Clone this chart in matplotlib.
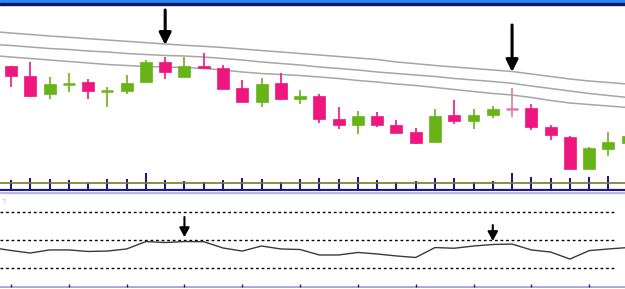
import matplotlib
matplotlib.use("Agg")
import matplotlib.pyplot as plt
from matplotlib.patches import Rectangle
import numpy as np

# ---- данные ----
opens  = [134,124,106,116,118,109,109,118,138,123,134,132,112, 98,117,101,104, 81, 75, 84, 75, 68, 58, 85, 79, 85, 91, 92, 73, 63, 31, 51, 57]
highs  = [134,138,123,127,121,113,125,140,143,143,147,135,120,122,127,110,106, 93, 89, 88, 80, 72, 91,100, 91, 94,112, 96, 75, 64, 53, 68, 64]
lows   = [113,103,101,108,101, 93,106,118,121,123,132,111, 98, 93,100, 96, 77, 71, 66, 73, 67, 56, 58, 76, 71, 82, 83, 70, 60, 31, 31, 44, 57]
closes = [124,104,116,117,109,110,117,138,128,134,132,111, 98,116,101,104, 81, 75, 84, 75, 67, 57, 84, 79, 85, 91,90.5,73, 65, 31, 52, 58, 64]
volume = [11,13,12,11.5,8,12,12,18,11,10,9,11,13,12,9,12,13,12,14,11,9,10,13,13,9,10,18,14,13,13,14,15]
vol_level = 8

# три скользящие (индексы -1..32)
ma_x = np.arange(-1, 33)
ma_fast = [168.5,167,165.5,164,162.7,161.3,160,158.7,157.3,156,154.7,153.7,152.5,151,149.5,148,146.5,145,143.5,142,140.5,138,136.3,134.5,133,131.5,130,128.5,126,123.5,121,119,117.5,116]
ma_mid  = [155.5,154.5,153,151.5,150.5,149,148,146.5,145.5,144.5,144,143,141.5,140,138,136.5,135,133,131.5,130,128,126.5,125,123.5,121.5,120,118.5,116.7,114,111.5,109,106.5,104.5,102.5]
ma_slow = [144.5,143,141.5,140,138.5,137,135.5,134.5,133.5,133,132.5,131.5,130,128,126.5,125.5,124.5,123,121.5,119.5,118,116,114.5,112.5,110.5,108.5,106.5,105,102.5,99.5,97,95.5,94,92.5]

# осциллятор (индексы -1..32) и его уровни
osc = [44.6,42.5,40.7,42.9,42.9,41.8,42.1,43.6,48.9,48.2,48.9,48.8,44.3,42.1,45.7,43.6,43.2,39.3,39.3,41.1,40.0,38.6,37.5,44.6,44.1,45.7,46.8,47.1,42.9,41.4,36.4,42.4,43.6,44.6]
osc_levels = [70, 50, 30]

# стрелки-сигналы: (бар, от, до)
main_arrows = [(8, 190, 155), (26, 175, 128)]
osc_arrows  = [(9, 66.4, 52.1), (25, 60.7, 49.3)]

PINK = "#f0167f"; GREEN = "#68b418"; NAVY = "#1c1c84"
XL = (-0.571, 31.86)
H = 289.0

fig = plt.figure(figsize=(6.25, 2.89), dpi=100)
fig.patch.set_facecolor("white")

# верхняя полоса окна
fig.patches.append(Rectangle((0, 1 - 3/H), 1, 3/H, transform=fig.transFigure, color="#2b8af0", zorder=0))
fig.patches.append(Rectangle((0, 1 - 4.5/H), 1, 1.5/H, transform=fig.transFigure, color="#0a1a6a", zorder=0))

pos_main = [0, (H-191)/H, 1, 187/H]

# ---- объёмы ----
vax = fig.add_axes(pos_main)
vax.set_xlim(*XL); vax.set_ylim(0, 187)
vx = np.arange(len(volume))
vax.vlines(vx, 0, volume, color=NAVY, lw=1.5)
vax.axhline(vol_level, color="#7a7a2a", lw=1.2)
vax.axhline(0.6, color=NAVY, lw=1.6)
vax.axis("off")

# ---- свечи ----
ax = fig.add_axes(pos_main)
ax.set_xlim(*XL); ax.set_ylim(9, 196)
ax.patch.set_alpha(0)
for m in (ma_fast, ma_mid, ma_slow):
    ax.plot(ma_x, m, color="#a6a6a6", lw=1.1, zorder=1)
for i, (o, h, l, c) in enumerate(zip(opens, highs, lows, closes)):
    col = GREEN if c > o else PINK
    if abs(c - o) < 1.5:
        wc = "#e07aa8" if c < o else col
        ax.vlines(i, l, h, color=wc, lw=1.2, zorder=2)
        ax.hlines(o, i - 0.31, i + 0.31, color=wc, lw=1.8, zorder=3)
        continue
    ax.vlines(i, l, h, color=col, lw=1.2, zorder=2)
    ax.bar(i, c - o, bottom=o, width=0.62, color=col, edgecolor=col, lw=0.5, zorder=3)
for b, y0, y1 in main_arrows:
    ax.annotate("", xy=(b, y1), xytext=(b, y0),
                arrowprops=dict(arrowstyle="-|>,head_length=0.6,head_width=0.3", mutation_scale=12,
                                lw=2.2, color="black", shrinkA=0, shrinkB=0), zorder=5)
ax.axis("off")

# ---- осциллятор ----
oax = fig.add_axes([0, 1/H, 1, 96/H])
oax.set_xlim(*XL); oax.set_ylim(15.7, 84.3)
for lv in osc_levels:
    oax.hlines(lv, XL[0], 31.36, color="black", lw=1, linestyles=(0, (2, 2)))
oax.plot(ma_x, osc, color="#3a3a3a", lw=1)
for b, y0, y1 in osc_arrows:
    oax.annotate("", xy=(b, y1), xytext=(b, y0),
                 arrowprops=dict(arrowstyle="-|>,head_length=0.55,head_width=0.3", mutation_scale=10,
                                 lw=1.5, color="black", shrinkA=0, shrinkB=0))
oax.axhline(16.2, color="#a8a8d8", lw=2)
oax.vlines(np.arange(0, 31, 3), 16.2, 18.6, color=NAVY, lw=1)
oax.text(0.003, 0.9, "7", transform=oax.transAxes, fontsize=5, color="#c4c4c4", va="center")
oax.axis("off")

# разделитель панелей
fig.patches.append(Rectangle((0, (H-193)/H), 1, 1/H, transform=fig.transFigure, color="#b8b8e0", zorder=0))

fig.savefig("out.png", dpi=100)
